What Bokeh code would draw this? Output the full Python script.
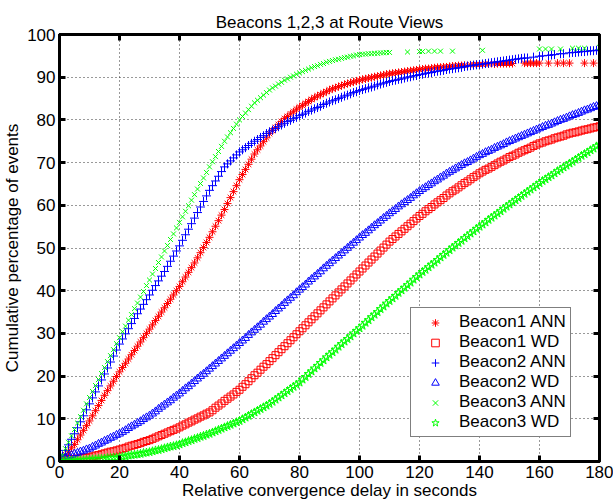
from bokeh.plotting import figure
from bokeh.models import FixedTicker, LinearAxis, Legend, LegendItem, Range1d, ColumnDataSource
from bokeh.embed import file_html
from bokeh.resources import INLINE

# ---------------- data (percent of events, one value per second 0..180) ----------------
seconds = list(range(0, 181))

b1_ann = [
    0.0, 0.8, 1.6, 2.4, 3.2, 4.0, 5.1, 6.2, 7.3, 8.4,
    9.5, 10.7, 11.9, 13.1, 14.3, 15.5, 16.6, 17.7, 18.8, 19.9,
    21.0, 22.0, 23.0, 24.0, 25.0, 26.0, 27.0, 28.0, 29.0, 30.0,
    31.0, 32.0, 33.0, 34.0, 35.0, 36.0, 37.0, 38.0, 39.0, 40.0,
    41.0, 42.1, 43.2, 44.3, 45.4, 46.5, 47.7, 48.9, 50.1, 51.3,
    52.5, 53.8, 55.1, 56.4, 57.7, 59.0, 60.4, 61.8, 63.2, 64.6,
    66.0, 67.2, 68.4, 69.6, 70.8, 72.0, 73.0, 73.9, 74.9, 75.8,
    76.8, 77.5, 78.2, 78.9, 79.6, 80.3, 80.8, 81.4, 81.9, 82.5,
    83.0, 83.4, 83.9, 84.3, 84.8, 85.2, 85.6, 85.9, 86.3, 86.6,
    87.0, 87.3, 87.5, 87.8, 88.0, 88.3, 88.5, 88.7, 88.9, 89.1,
    89.3, 89.5, 89.6, 89.8, 89.9, 90.1, 90.2, 90.4, 90.5, 90.7,
    90.8, 90.9, 91.0, 91.1, 91.2, 91.3, 91.4, 91.5, 91.6, 91.7,
    91.8, 91.9, 92.0, 92.0, 92.1, 92.2, 92.3, 92.3, 92.4, 92.4,
    92.5, 92.6, 92.6, 92.7, 92.7, 92.8, None, 92.9, 92.9, 93.0,
    93.0, 93.0, 93.1, 93.1, None, 93.1, 93.2, 93.2, 93.2, 93.2,
    93.2, 93.2, None, None, None, 93.3, 93.3, 93.3, 93.3, 93.3,
    93.3, None, None, 93.3, None, None, 93.3, None, 93.3, None,
    93.3, None, None, None, None, 93.3, None, None, 93.3, None,
    None,
]

b1_wd = [
    0.3, 0.4, 0.4, 0.5, 0.6, 0.6, 0.7, 0.8, 0.9, 0.9,
    1.0, 1.2, 1.4, 1.5, 1.7, 1.9, 2.1, 2.3, 2.4, 2.6,
    2.8, 3.0, 3.2, 3.5, 3.7, 3.9, 4.1, 4.3, 4.6, 4.8,
    5.0, 5.3, 5.6, 5.9, 6.2, 6.5, 6.8, 7.1, 7.4, 7.7,
    8.0, 8.4, 8.7, 9.1, 9.4, 9.8, 10.1, 10.5, 10.8, 11.2,
    11.5, 12.0, 12.6, 13.1, 13.6, 14.2, 14.7, 15.2, 15.7, 16.3,
    16.8, 17.5, 18.1, 18.8, 19.5, 20.2, 20.8, 21.5, 22.2, 22.8,
    23.5, 24.2, 24.9, 25.6, 26.3, 27.0, 27.7, 28.4, 29.1, 29.8,
    30.5, 31.2, 31.9, 32.6, 33.3, 34.0, 34.7, 35.4, 36.1, 36.8,
    37.5, 38.2, 38.9, 39.6, 40.3, 41.0, 41.7, 42.4, 43.1, 43.8,
    44.5, 45.2, 45.9, 46.6, 47.3, 48.0, 48.7, 49.4, 50.1, 50.8,
    51.5, 52.1, 52.7, 53.3, 53.9, 54.5, 55.1, 55.7, 56.3, 56.9,
    57.5, 58.0, 58.6, 59.1, 59.6, 60.2, 60.7, 61.2, 61.7, 62.3,
    62.8, 63.3, 63.7, 64.2, 64.7, 65.2, 65.6, 66.1, 66.6, 67.0,
    67.5, 67.9, 68.3, 68.6, 69.0, 69.4, 69.8, 70.2, 70.5, 70.9,
    71.3, 71.6, 71.9, 72.3, 72.6, 72.9, 73.2, 73.5, 73.9, 74.2,
    74.5, 74.7, 75.0, 75.2, 75.4, 75.7, 75.9, 76.1, 76.3, 76.6,
    76.8, 77.0, 77.1, 77.3, 77.5, 77.7, 77.8, 78.0, 78.2, 78.3,
    78.5,
]

b2_ann = [
    0.0, 1.3, 2.6, 3.9, 5.2, 6.5, 7.9, 9.3, 10.7, 12.1,
    13.5, 14.9, 16.3, 17.7, 19.1, 20.5, 21.9, 23.3, 24.7, 26.1,
    27.5, 28.7, 29.9, 31.1, 32.3, 33.5, 34.6, 35.7, 36.8, 37.9,
    39.0, 40.1, 41.2, 42.3, 43.4, 44.5, 45.7, 46.9, 48.1, 49.3,
    50.5, 51.8, 53.1, 54.4, 55.7, 57.0, 58.3, 59.6, 60.9, 62.2,
    63.5, 64.6, 65.7, 66.8, 67.9, 69.0, 69.7, 70.4, 71.1, 71.8,
    72.5, 73.0, 73.5, 74.0, 74.5, 75.0, 75.4, 75.9, 76.3, 76.8,
    77.2, 77.6, 78.0, 78.4, 78.8, 79.2, 79.6, 79.9, 80.3, 80.6,
    81.0, 81.3, 81.6, 82.0, 82.3, 82.6, 82.9, 83.2, 83.6, 83.9,
    84.2, 84.5, 84.7, 85.0, 85.3, 85.6, 85.8, 86.1, 86.4, 86.6,
    86.9, 87.1, 87.3, 87.5, 87.7, 87.9, 88.2, 88.4, 88.6, 88.8,
    89.0, 89.2, 89.3, 89.5, 89.6, 89.8, 90.0, 90.1, 90.3, 90.4,
    90.6, 90.7, 90.9, 91.0, 91.1, 91.3, 91.4, 91.5, 91.6, 91.8,
    91.9, 92.0, 92.1, 92.2, 92.3, 92.5, 92.6, 92.7, 92.8, 92.9,
    93.0, 93.1, 93.2, 93.3, 93.4, 93.5, 93.6, 93.7, 93.8, 93.9,
    94.0, 94.1, 94.2, 94.3, 94.4, 94.5, 94.5, None, 94.7, None,
    94.9, 95.0, None, 95.1, 95.2, 95.3, None, 95.5, 95.5, None,
    95.7, 95.8, 95.8, 95.9, 96.0, 96.0, 96.1, 96.2, 96.2, 96.3,
    96.4,
]

b2_wd = [
    0.5, 0.8, 1.0, 1.3, 1.5, 1.8, 2.0, 2.3, 2.5, 2.8,
    3.0, 3.4, 3.7, 4.1, 4.4, 4.8, 5.1, 5.5, 5.8, 6.2,
    6.5, 6.9, 7.3, 7.8, 8.2, 8.6, 9.0, 9.4, 9.9, 10.3,
    10.7, 11.2, 11.7, 12.3, 12.8, 13.3, 13.8, 14.3, 14.9, 15.4,
    15.9, 16.5, 17.1, 17.6, 18.2, 18.8, 19.4, 20.0, 20.5, 21.1,
    21.7, 22.3, 22.9, 23.5, 24.1, 24.7, 25.3, 25.9, 26.5, 27.1,
    27.7, 28.3, 28.9, 29.6, 30.2, 30.8, 31.4, 32.0, 32.7, 33.3,
    33.9, 34.5, 35.2, 35.8, 36.4, 37.1, 37.7, 38.3, 38.9, 39.6,
    40.2, 40.8, 41.4, 42.1, 42.7, 43.3, 43.9, 44.5, 45.2, 45.8,
    46.4, 47.0, 47.6, 48.2, 48.8, 49.4, 50.0, 50.6, 51.2, 51.8,
    52.4, 53.0, 53.5, 54.1, 54.7, 55.3, 55.8, 56.4, 57.0, 57.5,
    58.1, 58.6, 59.1, 59.7, 60.2, 60.7, 61.2, 61.7, 62.3, 62.8,
    63.3, 63.8, 64.2, 64.7, 65.1, 65.6, 66.0, 66.5, 66.9, 67.4,
    67.8, 68.2, 68.6, 69.0, 69.4, 69.8, 70.1, 70.5, 70.9, 71.3,
    71.7, 72.0, 72.4, 72.7, 73.0, 73.4, 73.7, 74.0, 74.3, 74.7,
    75.0, 75.3, 75.6, 75.9, 76.2, 76.5, 76.8, 77.1, 77.4, 77.7,
    78.0, 78.3, 78.6, 78.8, 79.1, 79.4, 79.7, 80.0, 80.2, 80.5,
    80.8, 81.1, 81.3, 81.6, 81.9, 82.2, 82.4, 82.7, 83.0, 83.2,
    83.5,
]

b3_ann = [
    0.0, 1.5, 3.0, 4.5, 6.0, 7.5, 9.0, 10.5, 12.0, 13.5,
    15.0, 16.4, 17.8, 19.2, 20.6, 22.0, 23.4, 24.8, 26.2, 27.6,
    29.0, 30.4, 31.7, 33.1, 34.4, 35.8, 37.1, 38.5, 39.8, 41.2,
    42.5, 43.9, 45.2, 46.6, 47.9, 49.3, 50.6, 52.0, 53.3, 54.7,
    56.0, 57.3, 58.6, 59.9, 61.2, 62.5, 63.8, 65.1, 66.4, 67.7,
    69.0, 70.2, 71.4, 72.6, 73.8, 75.0, 76.0, 77.0, 78.0, 79.0,
    80.0, 80.8, 81.6, 82.4, 83.2, 84.0, 84.6, 85.2, 85.8, 86.4,
    87.0, 87.5, 87.9, 88.4, 88.8, 89.3, 89.6, 90.0, 90.3, 90.7,
    91.0, 91.3, 91.6, 91.9, 92.2, 92.5, 92.7, 93.0, 93.2, 93.5,
    93.7, 93.9, 94.1, 94.2, 94.4, 94.6, 94.7, 94.9, 95.0, 95.2,
    95.3, 95.4, 95.4, 95.5, 95.5, 95.6, 95.6, 95.7, 95.7, 95.8,
    95.8, None, None, None, None, None, 95.9, None, None, None,
    96.0, 96.0, None, 96.1, None, 96.1, None, 96.1, None, None,
    None, 96.1, None, None, None, None, None, None, None, None,
    None, 96.3, None, None, None, None, None, None, None, None,
    None, None, None, None, None, None, None, None, None, None,
    96.6, None, 96.6, None, 96.6, None, None, 96.6, None, None,
    None, 96.8, None, 96.8, None, 96.8, None, None, None, None,
    97.0,
]

b3_wd = [
    0.0, 0.0, 0.1, 0.1, 0.2, 0.2, 0.2, 0.3, 0.3, 0.4,
    0.4, 0.5, 0.5, 0.6, 0.6, 0.7, 0.8, 0.8, 0.9, 0.9,
    1.0, 1.1, 1.2, 1.4, 1.5, 1.6, 1.7, 1.8, 2.0, 2.1,
    2.2, 2.4, 2.6, 2.7, 2.9, 3.1, 3.3, 3.5, 3.6, 3.8,
    4.0, 4.3, 4.5, 4.8, 5.0, 5.3, 5.5, 5.8, 6.0, 6.3,
    6.5, 6.8, 7.1, 7.4, 7.7, 8.0, 8.3, 8.6, 8.9, 9.2,
    9.5, 9.9, 10.3, 10.7, 11.1, 11.5, 11.9, 12.3, 12.7, 13.1,
    13.5, 14.0, 14.5, 15.0, 15.5, 16.0, 16.5, 17.0, 17.5, 18.0,
    18.5, 19.2, 19.8, 20.5, 21.1, 21.8, 22.4, 23.1, 23.7, 24.4,
    25.0, 25.6, 26.2, 26.9, 27.5, 28.1, 28.7, 29.3, 30.0, 30.6,
    31.2, 31.8, 32.5, 33.1, 33.8, 34.4, 35.0, 35.7, 36.3, 37.0,
    37.6, 38.2, 38.8, 39.5, 40.1, 40.7, 41.3, 41.9, 42.6, 43.2,
    43.8, 44.4, 44.9, 45.5, 46.1, 46.6, 47.2, 47.8, 48.4, 48.9,
    49.5, 50.1, 50.6, 51.2, 51.7, 52.3, 52.8, 53.4, 53.9, 54.5,
    55.0, 55.5, 56.0, 56.6, 57.1, 57.6, 58.1, 58.6, 59.2, 59.7,
    60.2, 60.7, 61.2, 61.7, 62.2, 62.7, 63.2, 63.7, 64.2, 64.7,
    65.2, 65.7, 66.1, 66.6, 67.0, 67.5, 68.0, 68.4, 68.9, 69.3,
    69.8, 70.2, 70.7, 71.1, 71.6, 72.0, 72.4, 72.9, 73.3, 73.8,
    74.2,
]

series_labels = ["Beacon1 ANN", "Beacon1 WD", "Beacon2 ANN", "Beacon2 WD", "Beacon3 ANN", "Beacon3 WD"]
x_ticks = [0, 20, 40, 60, 80, 100, 120, 140, 160, 180]
y_ticks = [0, 10, 20, 30, 40, 50, 60, 70, 80, 90, 100]

# ---------------- figure ----------------
FONT = "Liberation Sans"
p = figure(width=613, height=503, x_range=Range1d(0, 180), y_range=Range1d(0, 100),
           output_backend="svg", toolbar_location=None,
           min_border_left=58, min_border_right=14, min_border_top=34, min_border_bottom=42,
           title="Beacons 1,2,3 at Route Views")
p.title.align = "center"
p.title.text_font = FONT
p.title.text_font_size = "17px"
p.title.text_font_style = "normal"
p.title.text_color = "black"
p.title.standoff = 6

p.outline_line_color = "black"
p.outline_line_width = 3
p.background_fill_color = "white"
p.border_fill_color = "white"

for ax in (p.xaxis[0], p.yaxis[0]):
    ax.major_label_text_font = FONT
    ax.major_label_text_font_size = "17px"
    ax.major_label_text_color = "black"
    ax.axis_label_text_font = FONT
    ax.axis_label_text_font_size = "17px"
    ax.axis_label_text_font_style = "normal"
    ax.axis_label_text_color = "black"
    ax.axis_line_width = 3
    ax.axis_line_color = "black"
    ax.major_tick_in = 6
    ax.major_tick_out = 0
    ax.major_tick_line_width = 3
    ax.minor_tick_line_color = None
    ax.major_label_standoff = 4

p.xaxis[0].ticker = FixedTicker(ticks=x_ticks)
p.yaxis[0].ticker = FixedTicker(ticks=y_ticks)
p.xaxis[0].axis_label = "Relative convergence delay in seconds"
p.yaxis[0].axis_label = "Cumulative percentage of events"
p.xaxis[0].axis_label_standoff = 0
p.yaxis[0].axis_label_standoff = 2

# tick marks on the top and right edges of the box (no labels)
for side, tks in (("above", x_ticks), ("right", y_ticks)):
    ax = LinearAxis(ticker=FixedTicker(ticks=tks))
    ax.major_label_text_font_size = "1px"
    ax.major_label_text_color = None
    ax.major_label_standoff = 0
    ax.axis_line_width = 3
    ax.major_tick_in = 6
    ax.major_tick_out = 0
    ax.major_tick_line_width = 3
    ax.minor_tick_line_color = None
    p.add_layout(ax, side)

p.xgrid.ticker = FixedTicker(ticks=x_ticks)
p.ygrid.ticker = FixedTicker(ticks=y_ticks)
for g in (p.xgrid[0], p.ygrid[0]):
    g.grid_line_color = "#333333"
    g.grid_line_dash = "1 3"
    g.grid_line_width = 1

def src(ys):
    xs = [s for s, v in zip(seconds, ys) if v is not None]
    vs = [v for v in ys if v is not None]
    return ColumnDataSource(dict(x=xs, y=vs))

specs = [
    (b1_ann, "asterisk", "#ff0000", 8),
    (b1_wd, "square", "#ff0000", 7),
    (b2_ann, "cross", "#0000ff", 9),
    (b2_wd, "triangle", "#0000ff", 8),
    (b3_ann, "x", "#00ff00", 7),
    (b3_wd, "star", "#00ff00", 9),
]
renderers = []
for ys, marker, color, size in specs:
    r = p.scatter("x", "y", source=src(ys), marker=marker, size=size,
                  line_color=color, fill_color=None, line_width=1)
    renderers.append(r)

legend = Legend(items=[LegendItem(label=l, renderers=[r]) for l, r in zip(series_labels, renderers)],
                location=(351, 24))
legend.label_text_font = FONT
legend.label_text_font_size = "17px"
legend.label_text_color = "black"
legend.border_line_color = "black"
legend.border_line_width = 1
legend.background_fill_color = "white"
legend.background_fill_alpha = 1.0
legend.glyph_width = 40
legend.glyph_height = 19
legend.label_height = 19
legend.spacing = 0
legend.padding = 4
legend.margin = 0
legend.label_standoff = 4
p.add_layout(legend)

open("out.html", "w").write(file_html(p, INLINE))
